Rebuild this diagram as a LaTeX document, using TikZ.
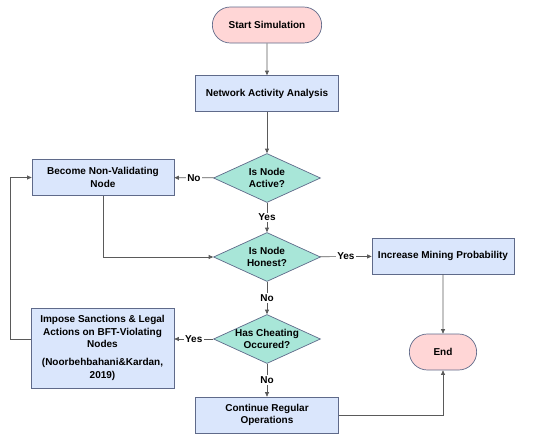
\documentclass[tikz,border=0pt]{standalone}
\usepackage{fontspec}
\setmainfont{Liberation Sans}
\usetikzlibrary{shapes.geometric,shapes.misc,arrows.meta}
\definecolor{pinkfill}{HTML}{FFD6D6}
\definecolor{bluefill}{HTML}{DAE6FC}
\definecolor{tealfill}{HTML}{A8E6D8}
\definecolor{edgeclr}{HTML}{5F6A8A}
\definecolor{lineclr}{HTML}{5A5A5A}
\begin{document}
\begin{tikzpicture}[
    x=1pt, y=-1pt,
    font=\bfseries\fontsize{10}{12.3}\selectfont,
    box/.style={rectangle, draw=edgeclr, fill=bluefill, line width=0.7pt, minimum width=143pt, minimum height=36pt, align=center, inner sep=2pt},
    terminal/.style={rounded rectangle, draw=edgeclr, fill=pinkfill, line width=0.7pt, minimum height=36pt, align=center},
    decision/.style={diamond, draw=edgeclr, fill=tealfill, line width=0.7pt, aspect=2.2, minimum width=107pt, minimum height=49pt, inner sep=-4pt, align=center},
    arrow/.style={-{Triangle[length=4.5pt,width=4pt]}, draw=lineclr, line width=0.7pt},
    answer/.style={fill=white, inner sep=1.5pt}
]
\useasboundingbox (0,0) rectangle (550,440);

% Main column
\node[terminal, minimum width=116pt] (start) at (267,25) {Start Simulation};
\node[box] (network) at (267,93.5) {Network Activity Analysis};
\node[decision] (active) at (267,178) {Is Node\\Active?};
\node[decision] (honest) at (267,257) {Is Node\\Honest?};
\node[decision] (cheating) at (267,339) {Has Cheating\\Occured?};
\node[box] (continue) at (267,415) {Continue Regular\\Operations};

% Left side
\node[box, minimum width=142pt] (nonvalid) at (103,177.5) {Become Non-Validating\\Node};
\node[box, minimum height=80pt] (sanctions) at (102.5,348) {Impose Sanctions \& Legal\\Actions on BFT-Violating\\Nodes\\[6pt](Noorbehbahani\&Kardan,\\2019)};

% Right side
\node[box, minimum width=142pt] (mining) at (443,256) {Increase Mining Probability};
\node[terminal, minimum width=74pt] (end) at (443,352) {End};
\coordinate (loopback) at (10,177.5);

% Connections
\draw[arrow] (start) -- (network);
\draw[arrow] (network) -- (active);
\draw[arrow] (active) -- node[answer] {No} (nonvalid);
\draw[arrow] (active) -- node[answer] {Yes} (honest);
\draw[arrow] (nonvalid) |- (honest);
\draw[arrow] (honest) -- node[answer] {Yes} (mining);
\draw[arrow] (honest) -- node[answer] {No} (cheating);
\draw[arrow] (cheating) -- node[answer] {Yes} (cheating -| sanctions.east);
\draw[arrow] (cheating) -- node[answer] {No} (continue);
\draw[arrow] (sanctions.west |- cheating) -| (loopback) -- (nonvalid.west);
\draw[arrow] (mining) -- (end);
\draw[arrow] (continue) -| (end);

\end{tikzpicture}
\end{document}
